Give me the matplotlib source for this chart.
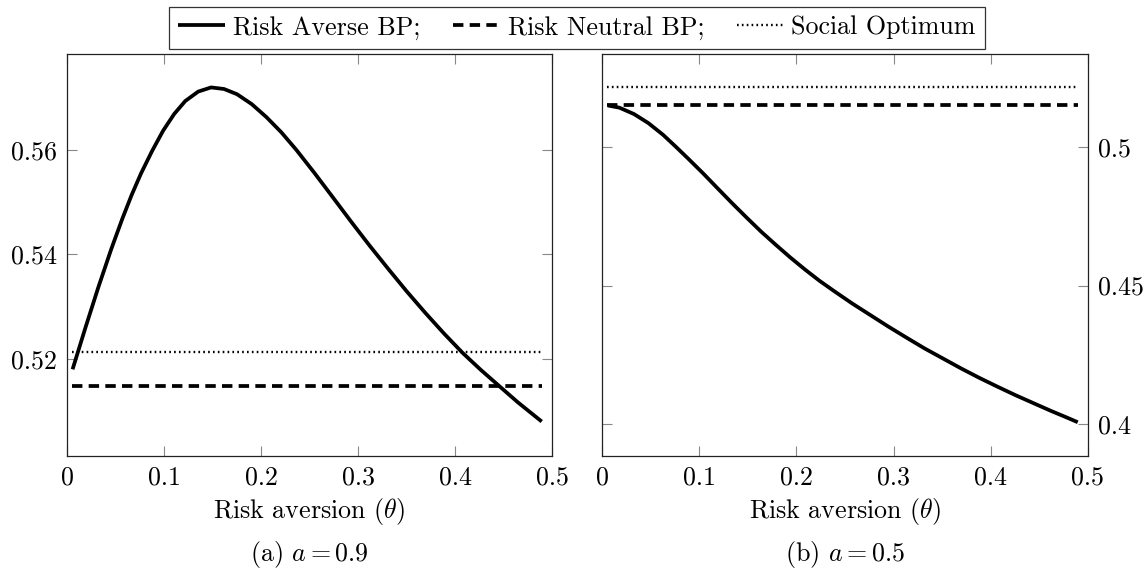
import matplotlib
matplotlib.use("Agg")
import matplotlib.pyplot as plt

plt.rcParams['font.family'] = 'serif'
plt.rcParams['font.serif'] = ['cmr10']
plt.rcParams['mathtext.fontset'] = 'cm'
plt.rcParams['lines.scale_dashes'] = False
plt.rcParams['axes.formatter.use_mathtext'] = True

# panel (a): a = 0.9
theta_a = [0.0057, 0.0190, 0.0324, 0.0457, 0.0571, 0.0666, 0.0762, 0.0876, 0.0990,
           0.1104, 0.1219, 0.1352, 0.1485, 0.1618, 0.1752, 0.1904, 0.2056, 0.2209,
           0.2361, 0.2551, 0.2742, 0.2932, 0.3123, 0.3313, 0.3503, 0.3694, 0.3884,
           0.4075, 0.4265, 0.4455, 0.4646, 0.4893]
averse_a = [0.5180, 0.5260, 0.5338, 0.5411, 0.5469, 0.5514, 0.5555, 0.5598, 0.5637,
            0.5669, 0.5694, 0.5712, 0.5720, 0.5717, 0.5707, 0.5688, 0.5663, 0.5634,
            0.5601, 0.5556, 0.5509, 0.5462, 0.5416, 0.5372, 0.5329, 0.5288, 0.5249,
            0.5212, 0.5179, 0.5148, 0.5117, 0.5080]
neutral_a = 0.5148
social_a = 0.5213
ylim_a = (0.5014, 0.5784)
yticks_a = [0.52, 0.54, 0.56]
yticklabels_a = ['0.52', '0.54', '0.56']

# panel (b): a = 0.5
theta_b = [0.0060, 0.0179, 0.0329, 0.0478, 0.0628, 0.0759, 0.0889, 0.1039, 0.1188,
           0.1338, 0.1487, 0.1637, 0.1786, 0.1936, 0.2085, 0.2235, 0.2384, 0.2571,
           0.2758, 0.2945, 0.3132, 0.3318, 0.3505, 0.3692, 0.3879, 0.4066, 0.4253,
           0.4439, 0.4626, 0.4776, 0.4895]
averse_b = [0.5151, 0.5143, 0.5120, 0.5087, 0.5045, 0.5002, 0.4958, 0.4906, 0.4852,
            0.4798, 0.4746, 0.4695, 0.4648, 0.4602, 0.4559, 0.4518, 0.4481, 0.4436,
            0.4394, 0.4352, 0.4312, 0.4273, 0.4237, 0.4201, 0.4167, 0.4135, 0.4104,
            0.4075, 0.4046, 0.4024, 0.4006]
neutral_b = 0.5151
social_b = 0.5216
ylim_b = (0.3884, 0.5337)
yticks_b = [0.4, 0.45, 0.5]
yticklabels_b = ['0.4', '0.45', '0.5']

theta_span = [0.005, 0.49]
xticks = [0, 0.1, 0.2, 0.3, 0.4, 0.5]
xticklabels = ['0', '0.1', '0.2', '0.3', '0.4', '0.5']

FS = 18.7

fig = plt.figure(figsize=(11.48, 5.74), dpi=100)
ax1 = fig.add_axes([0.0584, 0.2056, 0.4225, 0.7003])
ax2 = fig.add_axes([0.5244, 0.2056, 0.4233, 0.7003])


def draw_panel(ax, theta, averse, neutral, social, ylim, yticks, yticklabels, caption, right):
    ax.plot(theta, averse, color='black', lw=2.7, solid_capstyle='butt',
            solid_joinstyle='round', label='Risk Averse BP;')
    ax.plot(theta_span, [neutral, neutral], color='black', lw=2.7,
            linestyle=(0, (7.5, 4.5)), dash_capstyle='butt', label='Risk Neutral BP;')
    ax.plot(theta_span, [social, social], color='black', lw=1.7,
            linestyle=(0, (1.2, 2.3)), label='Social Optimum')
    ax.set_xlim(0, 0.5)
    ax.set_ylim(*ylim)
    ax.set_xticks(xticks)
    ax.set_xticklabels(xticklabels)
    ax.set_yticks(yticks)
    ax.set_yticklabels(yticklabels)
    ax.tick_params(direction='in', length=7, width=0.8, color='#888888',
                   top=True, right=True, labelsize=FS, pad=7)
    if right:
        ax.tick_params(axis='y', labelleft=False, labelright=True)
    for sp in ax.spines.values():
        sp.set_linewidth(0.9)
        sp.set_color('#222222')
    ax.set_xlabel(r'Risk aversion ($\theta$)', fontsize=FS, labelpad=5)
    ax.text(0.5, -0.245, caption, transform=ax.transAxes, ha='center', va='center',
            fontsize=FS)


draw_panel(ax1, theta_a, averse_a, neutral_a, social_a, ylim_a, yticks_a, yticklabels_a,
           r'(a) $a = 0.9$', False)
draw_panel(ax2, theta_b, averse_b, neutral_b, social_b, ylim_b, yticks_b, yticklabels_b,
           r'(b) $a = 0.5$', True)

handles, labels = ax1.get_legend_handles_labels()
leg = fig.legend(handles, labels, loc='center', bbox_to_anchor=(0.5026, 0.952), ncol=3,
                 fontsize=FS, frameon=True, fancybox=False, edgecolor='black',
                 handlelength=1.8, handletextpad=0.3, columnspacing=1.25,
                 borderpad=0.35, borderaxespad=0)
leg.get_frame().set_linewidth(0.9)

fig.savefig('out.png', dpi=100)
